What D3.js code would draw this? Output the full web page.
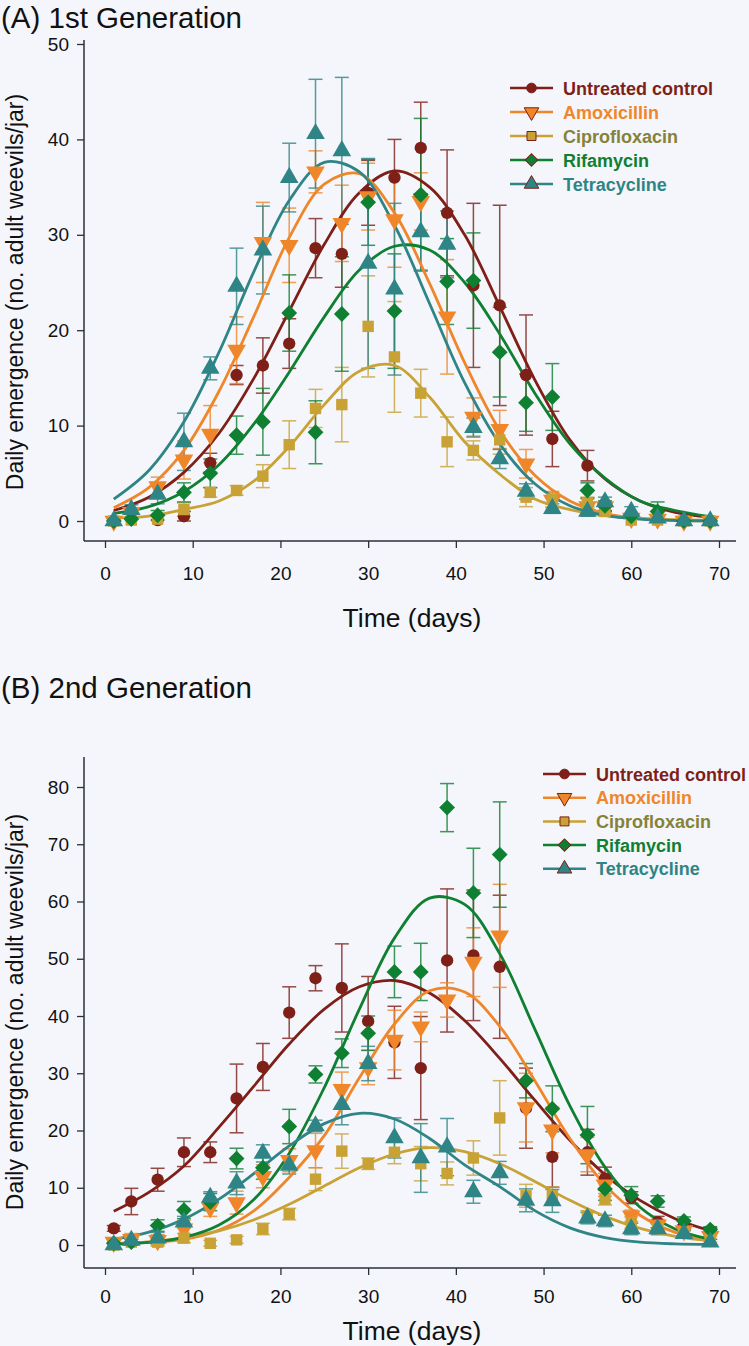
<!DOCTYPE html>
<html><head><meta charset="utf-8">
<script src="https://cdn.jsdelivr.net/npm/d3@7"></script>
<style>
html,body{margin:0;padding:0;background:#f4f6fb;}
svg{display:block;font-family:"Liberation Sans",Arial,sans-serif;}
</style></head>
<body>
<svg id="chart" width="749" height="1346"></svg>
<script>
// ---------- DATA ----------
const seriesNames = ["Untreated control","Amoxicillin","Ciprofloxacin","Rifamycin","Tetracycline"];
const days = [1,3,6,9,12,15,18,21,24,27,30,33,36,39,42,45,48,51,55,57,60,63,66,69];
const fitDays = [1,5,9,13,17,21,25,29,33,37,41,45,49,53,57,61,65,69];
const xTicks = [0,10,20,30,40,50,60,70];
const yTicksA = [0,10,20,30,40,50];
const yTicksB = [0,10,20,30,40,50,60,70,80];

// Panel A (1st generation) means
const a_control = [0,0.2,0.1,0.5,6.1,15.3,16.3,18.6,28.6,28.0,34.4,36.0,39.1,32.3,24.7,22.6,15.3,8.6,5.8,1.5,0.5,0.3,0.1,0];
const a_amox    = [0,0.9,3.6,6.4,9.1,17.9,29.2,28.9,36.6,31.2,34.0,31.6,33.5,21.4,10.9,9.6,6.0,2.2,1.5,1.5,0.3,0.2,0,0];
const a_cipro   = [0,0.1,0.2,1.2,3.0,3.2,4.7,8.0,11.8,12.2,20.4,17.2,13.4,8.3,7.4,8.5,2.5,2.3,1.9,1.0,0.1,0.1,0,0];
const a_rifa    = [0,0.2,0.6,3.0,5.0,9.0,10.4,21.8,9.3,21.7,33.4,22.0,34.2,25.1,25.2,17.7,12.4,13.0,3.2,1.6,0.5,1.0,0,0];
const a_tetra   = [0,1.2,2.8,8.3,16.0,24.6,28.4,36.0,40.6,38.8,27.0,24.3,30.3,29.0,9.8,6.5,3.1,1.3,1.0,2.0,1.0,0.3,0,0];
// Panel A error (half-length)
const a_control_err = [0.2,0.3,0.3,0.5,1.0,1.0,2.9,2.6,3.1,3.5,3.4,4.0,4.8,6.6,8.6,10.5,6.3,2.9,1.6,0.5,0.3,0.3,0.1,0.1];
const a_amox_err    = [0.2,0.5,1.0,2.0,3.0,3.5,4.2,3.9,2.2,4.0,3.5,5.0,3.0,6.0,2.0,2.0,1.5,0.8,0.8,0.6,0.3,0.2,0.1,0.1];
const a_cipro_err   = [0.1,0.3,0.3,0.7,0.5,0.5,1.2,2.5,2.0,3.9,5.3,5.8,2.5,2.6,1.0,1.5,1.0,0.8,0.6,0.5,0.2,0.2,0.1,0.1];
const a_rifa_err    = [0.2,0.3,0.5,1.0,1.5,2.0,3.5,4.0,3.3,6.0,4.5,6.0,8.0,4.5,5.0,4.7,3.0,3.5,0.8,0.5,0.3,1.0,0.1,0.1];
const a_tetra_err   = [0.2,0.5,1.0,3.0,1.2,4.0,4.6,3.6,5.7,7.7,11.0,9.0,4.0,3.5,1.0,1.0,0.8,0.5,0.5,0.5,0.5,0.3,0.1,0.1];
// Panel A fitted curves (read at fitDays)
const a_control_fit = [1.1,2.5,5.1,9.2,15.0,22.0,29.0,34.4,36.7,35.0,30.0,22.5,14.8,8.5,4.4,2.1,0.9,0.4];
const a_amox_fit    = [1.4,3.5,7.4,13.6,21.5,29.7,35.3,36.4,32.3,24.9,16.6,9.5,4.8,2.1,0.8,0.25,0.06,0.01];
const a_cipro_fit   = [0.3,0.5,1.2,2.1,4.2,7.8,12.2,15.7,16.3,13.0,8.3,4.9,2.3,1.2,0.6,0.3,0.15,0.1];
const a_rifa_fit    = [0.8,1.5,3.1,5.9,10.2,15.6,21.4,26.3,28.8,28.4,25.0,19.6,13.4,8.1,4.5,2.1,1.1,0.45];
const a_tetra_fit   = [2.3,5.3,10.4,17.7,26.2,33.6,37.6,36.6,31.0,22.8,14.5,8.1,3.9,1.6,0.6,0.2,0.05,0.01];

// Panel B (2nd generation) means
const b_control = [2.9,7.6,11.4,16.2,16.2,25.6,31.1,40.6,46.6,44.9,39.1,35.4,30.9,49.7,50.6,48.6,23.9,15.4,16.2,11.6,8.3,4.0,3.5,2.5];
const b_amox    = [0.5,1.0,0.8,2.8,6.5,7.4,12.0,14.8,16.5,27.2,31.0,35.8,38.1,42.8,49.4,54.0,24.0,20.1,15.8,10.5,5.1,3.5,2.5,1.5];
const b_cipro   = [0,0.5,0.5,1.2,0.3,0.9,2.8,5.4,11.5,16.4,14.2,16.2,14.2,12.5,15.2,22.2,8.6,8.6,5.0,8.0,3.9,2.9,2.1,1.0];
const b_rifa    = [0.3,0.5,3.4,6.1,7.5,15.1,13.5,20.7,29.8,33.5,37.0,47.7,47.7,76.4,61.5,68.2,28.7,23.8,19.2,9.8,8.7,7.6,4.2,2.7];
const b_tetra   = [0,0.8,1.2,4.0,8.3,10.8,16.0,13.9,20.8,24.5,31.7,18.7,15.2,17.1,9.3,12.6,7.8,7.7,4.7,4.2,2.8,2.8,2.0,0.5];
// Panel B error (half-length)
const b_control_err = [0.5,2.3,2.0,2.5,1.8,6.0,4.1,4.5,2.2,7.7,7.8,6.3,9.0,12.5,11.4,12.5,7.0,5.3,4.0,2.0,1.0,1.0,0.7,0.5];
const b_amox_err    = [0.3,1.0,1.0,1.5,1.5,2.0,2.0,2.0,3.0,3.0,3.0,5.2,2.6,3.0,6.0,9.0,6.0,4.0,3.0,2.0,1.0,1.0,0.7,0.5];
const b_cipro_err   = [0.2,0.5,0.5,0.8,0.5,0.6,1.0,1.0,2.0,3.0,1.0,2.0,3.0,2.0,3.0,6.5,2.0,1.5,1.0,1.0,1.0,0.8,0.5,0.5];
const b_rifa_err    = [0.3,0.5,1.0,1.5,1.5,1.8,2.0,3.0,1.5,2.5,3.0,4.5,5.0,4.2,7.8,9.2,3.0,4.0,5.0,2.0,1.5,1.0,0.7,0.5];
const b_tetra_err   = [0.3,0.5,1.0,1.0,1.0,2.0,1.5,1.5,1.0,3.5,3.0,3.5,6.0,5.0,2.0,2.0,2.0,2.0,1.0,1.0,1.0,1.0,0.5,0.5];
// Panel B fitted curves (read at fitDays)
const b_control_fit = [5.9,9.2,13.8,20.6,27.8,35.1,41.2,45.1,46.2,44.0,39.2,32.6,25.3,18.3,12.3,7.8,4.6,2.5];
const b_amox_fit    = [0.3,0.5,1.0,2.6,6.0,11.8,19.1,29.2,38.6,44.4,44.2,38.2,28.7,18.6,10.5,5.2,2.2,0.8];
const b_cipro_fit   = [0.23,0.56,1.24,2.45,4.4,7.1,10.3,13.5,15.9,17.0,16.3,14.2,11.1,7.8,5.0,2.9,1.5,0.7];
const b_rifa_fit    = [0.13,0.45,1.34,3.5,8.0,16.0,27.5,41.2,53.6,60.6,59.5,50.9,37.7,24.3,13.6,6.6,2.8,1.0];
const b_tetra_fit   = [0.98,2.24,4.5,8.0,12.5,17.3,21.2,23.0,22.0,18.6,14.0,10.2,6.0,3.0,1.3,0.5,0.2,0.1];

// ---------- STYLE ----------
const colors   = ["#7e1f18","#f0862a","#c9a235","#0f7f31","#2f8585"];
const textCols = ["#7e1f18","#f0862a","#86823a","#0f7f31","#2f8585"];
const symbols  = ["circle","triDown","square","diamond","triUp"];

const svg = d3.select("#chart");
svg.append("rect").attr("width",749).attr("height",1346).attr("fill","#f4f6fb");

function symPath(kind, small){
  const k = small ? 0.62 : 1;
  switch(kind){
    case "circle": return d3.symbol().type(d3.symbolCircle).size(120*k)();
    case "square": return d3.symbol().type(d3.symbolSquare).size(130*k)();
    case "diamond": return d3.symbol().type(d3.symbolSquare).size(125*k)();
    default: return d3.symbol().type(d3.symbolTriangle).size(150*k)();
  }
}
function symRot(kind){
  if(kind==="triDown") return 180;
  if(kind==="diamond") return 45;
  return 0;
}

function drawPanel(cfg){
  const g = svg.append("g");
  const x = d3.scaleLinear().domain([0,70]).range([105,719]);
  const y = d3.scaleLinear().domain([0,cfg.yMax]).range([cfg.zeroY,cfg.topY]);
  const font = "'Liberation Sans',Arial,sans-serif";

  // title
  g.append("text").attr("x",1).attr("y",cfg.titleY).attr("font-size",29.5)
    .attr("fill","#111").text(cfg.title);

  // axes lines
  g.append("line").attr("x1",cfg.axisX).attr("x2",cfg.axisX)
    .attr("y1",cfg.axisTop).attr("y2",cfg.axisY).attr("stroke","#2b2f3a").attr("stroke-width",1.5);
  g.append("line").attr("x1",cfg.axisX).attr("x2",736)
    .attr("y1",cfg.axisY).attr("y2",cfg.axisY).attr("stroke","#2b2f3a").attr("stroke-width",1.5);

  const yAxis = d3.axisLeft(y).tickValues(cfg.yTicks).tickSize(7).tickPadding(8);
  const ya = g.append("g").attr("transform",`translate(${cfg.axisX},0)`).call(yAxis);
  ya.select(".domain").remove();
  ya.selectAll("line").attr("stroke","#2b2f3a").attr("stroke-width",1.3);
  ya.selectAll("text").attr("font-size",19).attr("fill","#111").attr("font-family",font);

  const xAxis = d3.axisBottom(x).tickValues(xTicks).tickSize(7).tickPadding(cfg.xPad);
  const xa = g.append("g").attr("transform",`translate(0,${cfg.axisY})`).call(xAxis);
  xa.select(".domain").remove();
  xa.selectAll("line").attr("stroke","#2b2f3a").attr("stroke-width",1.3);
  xa.selectAll("text").attr("font-size",19).attr("fill","#111").attr("font-family",font);

  g.append("text").attr("x",412).attr("y",cfg.xTitleY).attr("text-anchor","middle")
    .attr("font-size",26.5).attr("fill","#111").text("Time (days)");
  g.append("text").attr("transform",`translate(23,${cfg.yTitleC}) rotate(-90)`)
    .attr("text-anchor","middle").attr("font-size",23).attr("fill","#111")
    .text("Daily emergence (no. adult weevils/jar)");

  // error bars
  cfg.series.forEach((s,i)=>{
    const eg = g.append("g").attr("stroke",colors[i]).attr("stroke-width",1.5).attr("opacity",0.8);
    days.forEach((d,j)=>{
      const v=s.vals[j], e=s.err[j];
      if(e<=0.35) return;
      const cx=x(d), y1=y(v+e), y2=y(Math.max(v-e,-0.5));
      eg.append("line").attr("x1",cx).attr("x2",cx).attr("y1",y1).attr("y2",y2);
      eg.append("line").attr("x1",cx-7).attr("x2",cx+7).attr("y1",y1).attr("y2",y1);
      eg.append("line").attr("x1",cx-7).attr("x2",cx+7).attr("y1",y2).attr("y2",y2);
    });
  });
  // fitted curves
  const line = d3.line().x((d,j)=>x(fitDays[j])).y(d=>y(d)).curve(d3.curveCatmullRom.alpha(0.5));
  cfg.series.forEach((s,i)=>{
    g.append("path").attr("d",line(s.fit)).attr("fill","none")
      .attr("stroke",colors[i]).attr("stroke-width",2.8);
  });
  // markers
  cfg.series.forEach((s,i)=>{
    g.append("g").selectAll("path").data(s.vals).join("path")
      .attr("d",symPath(symbols[i]))
      .attr("transform",(v,j)=>`translate(${x(days[j])},${y(v)}) rotate(${symRot(symbols[i])})`)
      .attr("fill",colors[i]);
  });

  // legend
  const lg = g.append("g");
  seriesNames.forEach((n,i)=>{
    const ly = cfg.legY + i*cfg.legStep;
    lg.append("line").attr("x1",cfg.legX).attr("x2",cfg.legX+43).attr("y1",ly).attr("y2",ly)
      .attr("stroke",colors[i]).attr("stroke-width",2.5);
    lg.append("path").attr("d",symPath(symbols[i],true))
      .attr("transform",`translate(${cfg.legX+21.5},${ly}) rotate(${symRot(symbols[i])})`)
      .attr("fill",colors[i]).attr("stroke","#7e1f18").attr("stroke-width",1);
    lg.append("text").attr("x",cfg.legX+53).attr("y",ly+6.5).attr("font-size",18)
      .attr("font-weight","bold").attr("fill",textCols[i]).text(n);
  });
}

drawPanel({
  title:"(A) 1st Generation", titleY:28,
  yMax:50, zeroY:521, topY:44, yTicks:yTicksA,
  axisX:84, axisY:541, axisTop:40, yTitleC:292, xPad:19, xTitleY:627,
  legX:510, legY:88, legStep:24,
  series:[
    {vals:a_control,err:a_control_err,fit:a_control_fit},
    {vals:a_amox,err:a_amox_err,fit:a_amox_fit},
    {vals:a_cipro,err:a_cipro_err,fit:a_cipro_fit},
    {vals:a_rifa,err:a_rifa_err,fit:a_rifa_fit},
    {vals:a_tetra,err:a_tetra_err,fit:a_tetra_fit}
  ]
});
drawPanel({
  title:"(B) 2nd Generation", titleY:698,
  yMax:80, zeroY:1245, topY:787, yTicks:yTicksB,
  axisX:84, axisY:1268, axisTop:757, yTitleC:1012, xPad:15, xTitleY:1340,
  legX:543, legY:774, legStep:23.7,
  series:[
    {vals:b_control,err:b_control_err,fit:b_control_fit},
    {vals:b_amox,err:b_amox_err,fit:b_amox_fit},
    {vals:b_cipro,err:b_cipro_err,fit:b_cipro_fit},
    {vals:b_rifa,err:b_rifa_err,fit:b_rifa_fit},
    {vals:b_tetra,err:b_tetra_err,fit:b_tetra_fit}
  ]
});
</script>
</body></html>
